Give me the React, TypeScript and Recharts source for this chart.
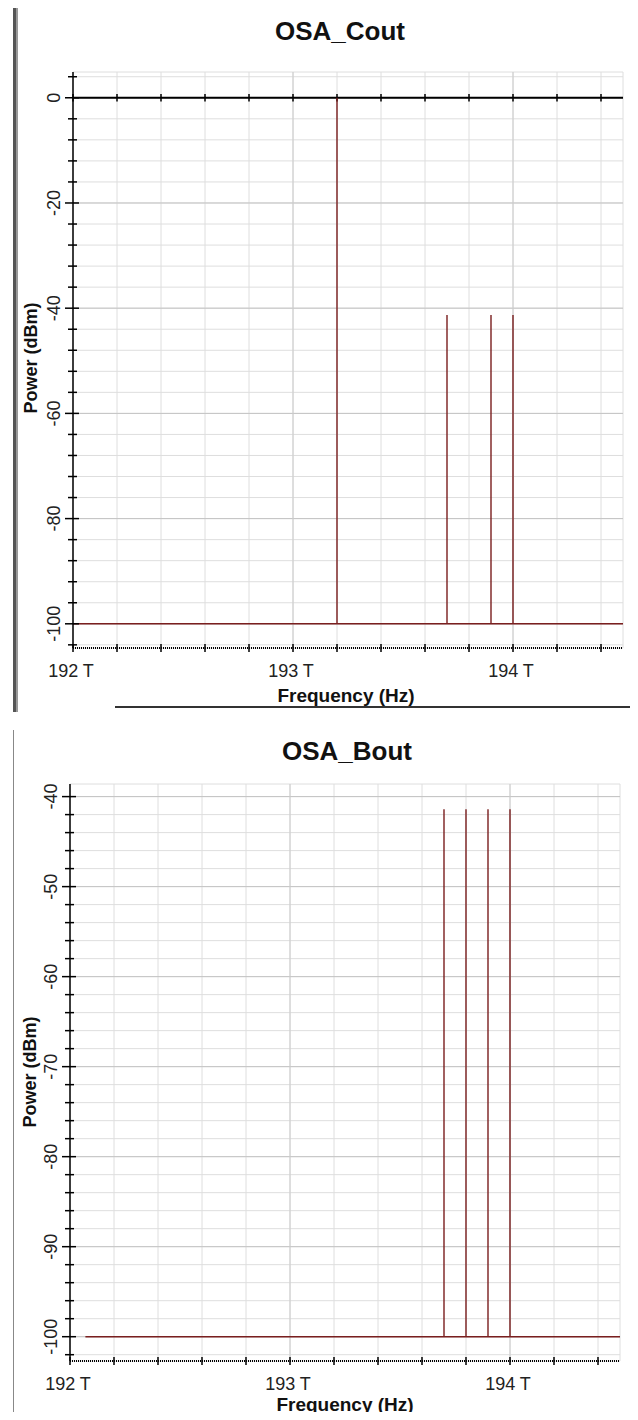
import React from 'react';
import { LineChart, Line, XAxis, YAxis, CartesianGrid, ReferenceLine } from 'recharts';

const FONT = '"Liberation Sans", Arial, sans-serif';
const TRACE = '#7a1f1f';

// frequency axis (THz), same on both plots
const freqTicks = [192, 192.2, 192.4, 192.6, 192.8, 193, 193.2, 193.4, 193.6, 193.8, 194, 194.2, 194.4];
const freqMajor = [193, 194];

// OSA_Cout spectrum
const coutRange = [192.0, 194.5];
const coutFloor = -100;
const coutPeakFreqs = [193.2, 193.7, 193.9, 194.0];
const coutPeakPowers = [0, -41.3, -41.3, -41.3];
const coutYMajor = [0, -20, -40, -60, -80, -100];

// OSA_Bout spectrum
const boutRange = [192.07, 194.5];
const boutFloor = -100;
const boutPeakFreqs = [193.7, 193.8, 193.9, 194.0];
const boutPeakPowers = [-41.4, -41.4, -41.4, -41.4];
const boutYMajor = [-40, -50, -60, -70, -80, -90, -100];

const steps = (from: number, to: number, step: number) => {
  const out: number[] = [];
  for (let v = from; v >= to; v -= step) out.push(v);
  return out;
};
const coutYTicks = steps(4, -104, 4);
const boutYTicks = steps(-40, -102, 2);

// floor + vertical spikes, in frequency order
const spectrum = (range: number[], floor: number, freqs: number[], powers: number[]) => {
  const pts = [{ f: range[0], p: floor }];
  freqs.forEach((f, i) => {
    pts.push({ f, p: floor }, { f, p: powers[i] }, { f, p: floor });
  });
  pts.push({ f: range[1], p: floor });
  return pts;
};

const YTick = (props: any) => {
  const { y, payload, axisX, major } = props;
  const isMajor = major.includes(payload.value);
  const lx = axisX - 19;
  return (
    <g>
      <line x1={axisX - (isMajor ? 8 : 5)} x2={axisX + (isMajor ? 6 : 4)} y1={y} y2={y} stroke="#000" strokeWidth={1.5} />
      {isMajor && (
        <text
          x={lx}
          y={y}
          transform={`rotate(-90 ${lx} ${y})`}
          textAnchor="middle"
          dominantBaseline="central"
          fontFamily={FONT}
          fontSize={18}
          fill="#222"
        >
          {payload.value}
        </text>
      )}
    </g>
  );
};

const XTick = (props: any) => {
  const { x, payload, axisY } = props;
  const v = payload.value;
  const isLabel = Math.abs(v - Math.round(v)) < 1e-6;
  return (
    <g>
      <line x1={x} x2={x} y1={axisY - 4} y2={axisY + 4} stroke="#000" strokeWidth={1.5} />
      {isLabel && (
        <text x={x - 2} y={axisY + 23} textAnchor="middle" dominantBaseline="central" fontFamily={FONT} fontSize={18} fill="#222">
          {`${Math.round(v)} T`}
        </text>
      )}
    </g>
  );
};

type PanelProps = {
  top: number;
  height: number;
  left: number;
  right: number;
  plotBottom: number;
  domain: number[];
  yTicks: number[];
  yMajor: number[];
  data: { f: number; p: number }[];
  zeroLine?: boolean;
};

const Panel = ({ top, height, left, right, plotBottom, domain, yTicks, yMajor, data, zeroLine }: PanelProps) => (
  <div style={{ position: 'absolute', left: 0, top }}>
    <LineChart width={638} height={height} data={data} margin={{ top: 72, right, bottom: height - plotBottom - 40, left: 0 }}>
      <CartesianGrid stroke="#dedede" strokeWidth={1} />
      {yMajor.map((v) => (
        <ReferenceLine key={'y' + v} y={v} stroke="#c4c4c4" strokeWidth={1} />
      ))}
      {freqMajor.map((v) => (
        <ReferenceLine key={'x' + v} x={v} stroke="#cccccc" strokeWidth={1} />
      ))}
      <XAxis
        dataKey="f"
        type="number"
        domain={[192, 194.5]}
        ticks={freqTicks}
        interval={0}
        height={40}
        axisLine={{ stroke: '#000', strokeWidth: 2, strokeDasharray: '1 1' }}
        tickLine={false}
        tick={(p: any) => <XTick {...p} axisY={plotBottom} />}
      />
      <XAxis
        xAxisId="top"
        orientation="top"
        type="number"
        domain={[192, 194.5]}
        height={0}
        tick={false}
        tickLine={false}
        axisLine={{ stroke: '#000', strokeWidth: 1.5, strokeDasharray: '1 1' }}
      />
      <YAxis
        type="number"
        domain={domain}
        ticks={yTicks}
        interval={0}
        width={left}
        axisLine={{ stroke: '#000', strokeWidth: 1.5 }}
        tickLine={false}
        tick={(p: any) => <YTick {...p} axisX={left} major={yMajor} />}
      />
      <YAxis
        yAxisId="right"
        orientation="right"
        type="number"
        domain={domain}
        width={0}
        tick={false}
        tickLine={false}
        axisLine={{ stroke: '#000', strokeWidth: 1.5, strokeDasharray: '1 1' }}
      />
      {zeroLine && <ReferenceLine y={0} stroke="#000" strokeWidth={2} />}
      {zeroLine &&
        freqTicks.map((f) => (
          <ReferenceLine
            key={'t' + f}
            segment={[
              { x: f, y: -0.7 },
              { x: f, y: 0.7 },
            ]}
            stroke="#000"
            strokeWidth={1.5}
          />
        ))}
      <Line type="linear" dataKey="p" stroke={TRACE} strokeWidth={1.4} dot={false} isAnimationActive={false} />
    </LineChart>
  </div>
);

const textBase: React.CSSProperties = {
  position: 'absolute',
  fontFamily: FONT,
  fontWeight: 'bold',
  color: '#111',
  textAlign: 'center',
  whiteSpace: 'nowrap',
};

const Title = ({ text, cx, top }: { text: string; cx: number; top: number }) => (
  <div style={{ ...textBase, left: cx - 150, width: 300, top, fontSize: 26, lineHeight: '26px' }}>{text}</div>
);

const AxisName = ({ text, cx, top }: { text: string; cx: number; top: number }) => (
  <div style={{ ...textBase, left: cx - 150, width: 300, top, fontSize: 19, lineHeight: '19px' }}>{text}</div>
);

const PowerName = ({ cx, cy }: { cx: number; cy: number }) => (
  <div
    style={{
      ...textBase,
      left: cx - 100,
      top: cy - 10,
      width: 200,
      height: 20,
      fontSize: 18,
      lineHeight: '20px',
      transform: 'rotate(-90deg)',
    }}
  >
    Power (dBm)
  </div>
);

export default function App() {
  const coutData = spectrum(coutRange, coutFloor, coutPeakFreqs, coutPeakPowers);
  const boutData = spectrum(boutRange, boutFloor, boutPeakFreqs, boutPeakPowers);
  return (
    <div style={{ position: 'relative', width: 638, height: 1420, margin: -8, background: '#fff', overflow: 'hidden' }}>
      {/* window frame bits around the two plots */}
      <div style={{ position: 'absolute', left: 13, top: 8, width: 3, height: 704, background: '#555', borderRight: '2px solid #999' }} />
      <div style={{ position: 'absolute', left: 7, top: 30, width: 0, height: 660, borderLeft: '1px dotted #aaa' }} />
      <div style={{ position: 'absolute', left: 115, top: 706, width: 523, height: 2, background: '#333' }} />
      <div style={{ position: 'absolute', left: 13, top: 730, width: 1, height: 690, background: '#888' }} />
      <div style={{ position: 'absolute', left: 112, top: 1417, width: 526, height: 2, background: '#444' }} />

      <Panel
        top={0}
        height={712}
        left={73}
        right={15}
        plotBottom={648}
        domain={[-104.6, 4.9]}
        yTicks={coutYTicks}
        yMajor={coutYMajor}
        data={coutData}
        zeroLine
      />
      <Panel
        top={712}
        height={708}
        left={70}
        right={18}
        plotBottom={649}
        domain={[-102.7, -38.6]}
        yTicks={boutYTicks}
        yMajor={boutYMajor}
        data={boutData}
      />

      <Title text="OSA_Cout" cx={340} top={18} />
      <Title text="OSA_Bout" cx={347} top={738} />
      <AxisName text="Frequency (Hz)" cx={346} top={686} />
      <AxisName text="Frequency (Hz)" cx={345} top={1395} />
      <PowerName cx={31} cy={358} />
      <PowerName cx={30} cy={1072} />
    </div>
  );
}
